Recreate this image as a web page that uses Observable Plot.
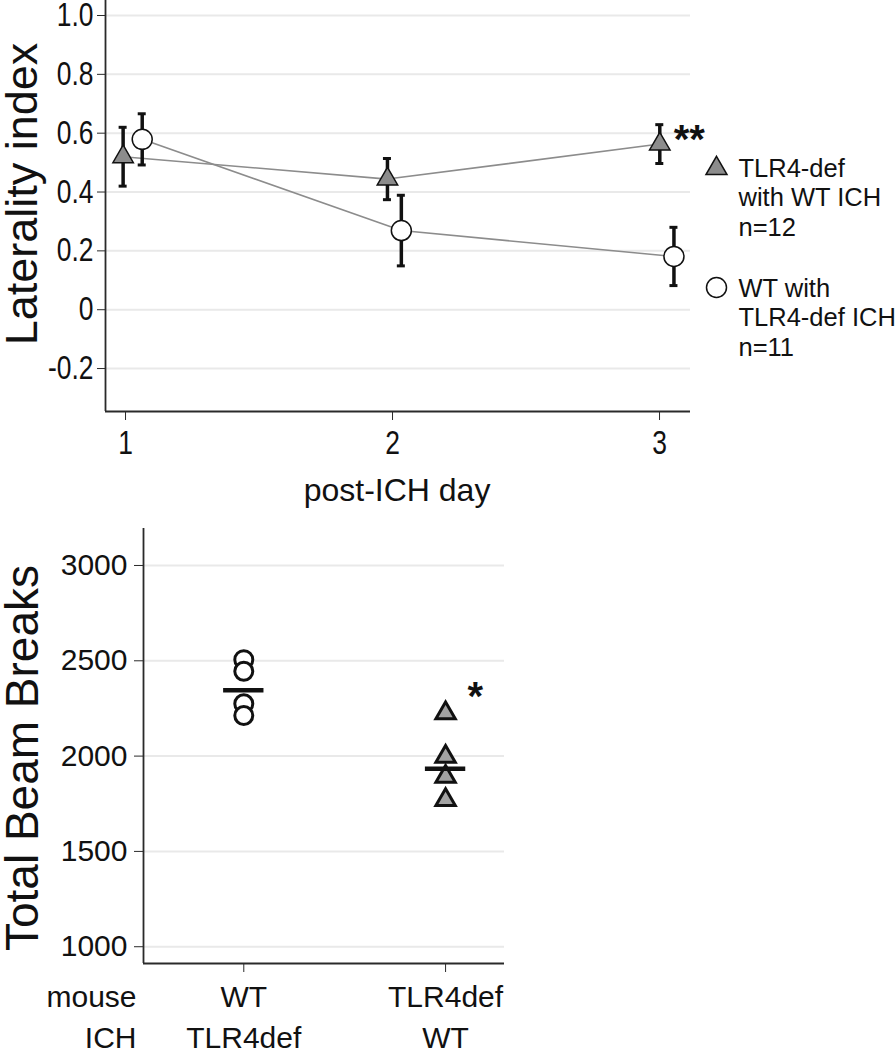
<!DOCTYPE html>
<html>
<head>
<meta charset="utf-8">
<script src="https://cdn.jsdelivr.net/npm/d3@7"></script>
<script src="https://cdn.jsdelivr.net/npm/@observablehq/plot@0.6"></script>
<style>
  body { margin: 0; background: #fff; }
  #chart svg { display: block; }
</style>
</head>
<body>
<div id="chart"></div>
<script>
// ---------- Top panel: laterality index ----------
const days = [1, 2, 3];
const dayLabels = ["1", "2", "3"];
// dodged x positions of the markers as drawn
const tlrX = [0.991, 1.981, 3.001];
const tlrMean = [0.52, 0.444, 0.563];
const tlrErr = [0.10, 0.07, 0.066];
const wtX = [1.0625, 2.033, 3.054];
const wtMean = [0.579, 0.269, 0.181];
const wtErr = [0.087, 0.12, 0.099];
const sigTop = ["", "", "**"];
const seriesNames = ["TLR4-def\nwith WT ICH\nn=12", "WT with\nTLR4-def ICH\nn=11"];
const yTicksTop = [-0.2, 0, 0.2, 0.4, 0.6, 0.8, 1.0];
const yTickLabelsTop = ["-0.2", "0", "0.2", "0.4", "0.6", "0.8", "1.0"];
const yTitleTop = "Laterality index";
const xTitleTop = "post-ICH day";

// ---------- Bottom panel: total beam breaks ----------
const groupPos = [1, 2];
const groupLabels = ["WT\nTLR4def", "TLR4def\nWT"];
const rowHeads = ["mouse\nICH"];
const wtBeams = [2506, 2445, 2275, 2213];
const tlrBeams = [2225, 1997, 1892, 1770];
const groupMeans = [2345, 1934];
const sigBottom = ["", "*"];
const yTicksBottom = [1000, 1500, 2000, 2500, 3000];
const yTitleBottom = "Total Beam Breaks";

const font = '"Liberation Sans", Arial, Helvetica, sans-serif';
const axisColor = "#2a2a2a";
const gridColor = "#e9e9e9";

// ----- build top data -----
const tlr = days.map((d, i) => ({x: tlrX[i], y: tlrMean[i], lo: tlrMean[i] - tlrErr[i], hi: tlrMean[i] + tlrErr[i], sig: sigTop[i]}));
const wt = days.map((d, i) => ({x: wtX[i], y: wtMean[i], lo: wtMean[i] - wtErr[i], hi: wtMean[i] + wtErr[i]}));
const allTop = tlr.concat(wt);
const xTopDomain = [0.925, 3.116];
const yTopDomain = [-0.346, 1.051];
const capHalf = 0.015;

const p1 = Plot.plot({
  width: 896, height: 510,
  marginLeft: 105, marginRight: 206, marginTop: 0, marginBottom: 99,
  style: {fontFamily: font, fontSize: "28px", color: "#111", background: "#fff", overflow: "visible"},
  x: {domain: xTopDomain},
  y: {domain: yTopDomain},
  marks: [
    Plot.gridY(yTicksTop, {stroke: gridColor, strokeOpacity: 1, strokeWidth: 2}),
    Plot.axisY(yTicksTop, {tickFormat: d => yTickLabelsTop[yTicksTop.indexOf(d)], tickSize: 8, tickPadding: 4, label: null, stroke: axisColor, fontSize: 33, fill: "#111"}),
    Plot.axisX(days, {tickFormat: d => dayLabels[days.indexOf(d)], tickSize: 9, tickPadding: 10, label: null, stroke: axisColor, fontSize: 33, fill: "#111"}),
    Plot.ruleX([xTopDomain[0]], {stroke: axisColor, strokeWidth: 1.8}),
    Plot.ruleY([yTopDomain[0]], {stroke: axisColor, strokeWidth: 1.8}),
    Plot.line(tlr, {x: "x", y: "y", stroke: "#8c8c8c", strokeWidth: 1.6}),
    Plot.line(wt, {x: "x", y: "y", stroke: "#8c8c8c", strokeWidth: 1.6}),
    Plot.ruleX(allTop, {x: "x", y1: "lo", y2: "hi", stroke: "#111", strokeWidth: 3.5}),
    Plot.ruleY(allTop, {y: "lo", x1: d => d.x - capHalf, x2: d => d.x + capHalf, stroke: "#111", strokeWidth: 3}),
    Plot.ruleY(allTop, {y: "hi", x1: d => d.x - capHalf, x2: d => d.x + capHalf, stroke: "#111", strokeWidth: 3}),
    Plot.dot(tlr, {x: "x", y: "y", symbol: "triangle", r: 7.6, fill: "#8c8c8c", stroke: "#111", strokeWidth: 1.5}),
    Plot.dot(wt, {x: "x", y: "y", symbol: "circle", r: 10, fill: "#fff", stroke: "#111", strokeWidth: 1.5}),
    Plot.text(tlr.filter(d => d.sig), {x: "x", y: "y", text: "sig", dx: 14, dy: -4, textAnchor: "start", lineAnchor: "middle", fontSize: 40, fontWeight: "bold", fill: "#111"}),
    // legend
    Plot.dot([seriesNames[0]], {frameAnchor: "top-right", dx: 26, dy: 168, symbol: "triangle", r: 7.8, fill: "#8c8c8c", stroke: "#111", strokeWidth: 1.5}),
    Plot.text([seriesNames[0]], {frameAnchor: "top-right", text: d => d, dx: 48, dy: 155, textAnchor: "start", lineAnchor: "top", lineHeight: 1.16, fontSize: 25.5, fill: "#111"}),
    Plot.dot([seriesNames[1]], {frameAnchor: "top-right", dx: 26, dy: 287, symbol: "circle", r: 10, fill: "#fff", stroke: "#111", strokeWidth: 1.5}),
    Plot.text([seriesNames[1]], {frameAnchor: "top-right", text: d => d, dx: 48, dy: 275, textAnchor: "start", lineAnchor: "top", lineHeight: 1.16, fontSize: 25.5, fill: "#111"}),
    // titles
    Plot.text([yTitleTop], {frameAnchor: "left", text: d => d, rotate: -90, dx: -83, dy: -12, textAnchor: "middle", lineAnchor: "middle", fontSize: 45, fill: "#111"}),
    Plot.text([xTitleTop], {frameAnchor: "bottom", text: d => d, dx: -1, dy: 79, textAnchor: "middle", lineAnchor: "middle", fontSize: 32, fill: "#111"})
  ]
});

// ----- build bottom data -----
const dotsWT = wtBeams.map(v => ({x: groupPos[0], y: v}));
const dotsTLR = tlrBeams.map(v => ({x: groupPos[1], y: v}));
const means = groupPos.map((g, i) => ({x: g, y: groupMeans[i]}));
const sigB = groupPos.map((g, i) => ({x: g, y: i === 0 ? wtBeams[0] : tlrBeams[0], sig: sigBottom[i]})).filter(d => d.sig);
const xBotDomain = [0.503, 2.292];
const yBotDomain = [912, 3194];
const meanHalf = 0.1;

const p2 = Plot.plot({
  width: 896, height: 540,
  marginLeft: 143, marginRight: 392, marginTop: 18, marginBottom: 87,
  style: {fontFamily: font, fontSize: "30px", color: "#111", background: "#fff", overflow: "visible"},
  x: {domain: xBotDomain},
  y: {domain: yBotDomain},
  marks: [
    Plot.gridY(yTicksBottom, {stroke: gridColor, strokeOpacity: 1, strokeWidth: 2}),
    Plot.axisY(yTicksBottom, {tickFormat: d => String(d), tickSize: 9, tickPadding: 7, label: null, stroke: axisColor, fontSize: 30, fill: "#111"}),
    Plot.axisX(groupPos, {tickFormat: d => groupLabels[groupPos.indexOf(d)], tickSize: 9, tickPadding: 6, label: null, stroke: axisColor, fontSize: 30, lineHeight: 1.36, fill: "#111"}),
    Plot.ruleX([xBotDomain[0]], {stroke: axisColor, strokeWidth: 1.8}),
    Plot.ruleY([yBotDomain[0]], {stroke: axisColor, strokeWidth: 1.8}),
    Plot.dot(dotsWT, {x: "x", y: "y", symbol: "circle", r: 9, fill: "#fff", stroke: "#111", strokeWidth: 3}),
    Plot.dot(dotsTLR, {x: "x", y: "y", symbol: "triangle", r: 7.2, fill: "#a3a3a3", stroke: "#111", strokeWidth: 3}),
    Plot.ruleY(means, {y: "y", x1: d => d.x - meanHalf, x2: d => d.x + meanHalf, stroke: "#111", strokeWidth: 4.5}),
    Plot.text(sigB, {x: "x", y: "y", text: "sig", dx: 22, dy: -16, textAnchor: "start", lineAnchor: "middle", fontSize: 40, fontWeight: "bold", fill: "#111"}),
    Plot.text(rowHeads, {frameAnchor: "bottom-left", text: d => d, dx: -7, dy: 15, textAnchor: "end", lineAnchor: "top", lineHeight: 1.36, fontSize: 30, fill: "#111"}),
    Plot.text([yTitleBottom], {frameAnchor: "left", text: d => d, rotate: -90, dx: -120, dy: 12, textAnchor: "middle", lineAnchor: "middle", fontSize: 46, fill: "#111"})
  ]
});

document.getElementById("chart").append(p1, p2);

// the top panel's tick labels are set in a condensed face: squeeze them horizontally
p1.querySelectorAll('g[aria-label="y-axis tick label"] text, g[aria-label="x-axis tick label"] text').forEach(t => {
  const len = t.getComputedTextLength();
  if (len > 0) {
    t.setAttribute("textLength", (len * 0.8).toFixed(1));
    t.setAttribute("lengthAdjust", "spacingAndGlyphs");
  }
});
</script>
</body>
</html>
